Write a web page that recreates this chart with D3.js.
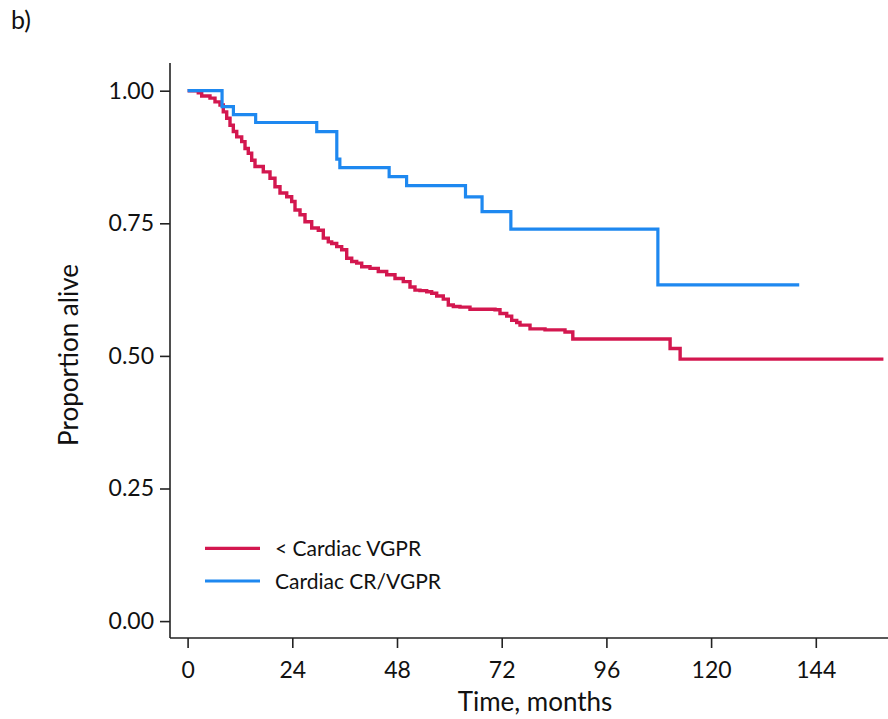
<!DOCTYPE html>
<html><head><meta charset="utf-8">
<script src="https://cdn.jsdelivr.net/npm/d3@7"></script>
<style>body{margin:0;background:#fff}svg{display:block}text{font-family:Lato,"Open Sans",sans-serif;fill:#111}</style>
</head><body>
<svg id="c" width="888" height="719"></svg>
<script>
const seriesNames = ["< Cardiac VGPR", "Cardiac CR/VGPR"];
// [months, proportion alive] step points
const redTimes = [0,2.45,3.23,5.13,6.28,7.43,8.18,8.96,9.72,10.48,11.26,12.40,13.16,13.91,14.69,15.45,17.35,18.89,20.03,21.18,22.72,23.86,24.62,25.77,26.91,28.45,29.96,31.11,32.25,33.03,34.18,35.32,36.47,37.62,38.76,39.91,41.81,43.71,45.64,47.54,49.44,50.98,52.12,53.27,54.81,55.95,57.10,58.61,59.76,60.91,62.44,64.73,70.47,71.61,73.15,74.29,75.44,76.20,78.49,81.93,86.51,88.3,110.6,112.9,159.5];
const redValues = [1,0.996,0.990,0.986,0.979,0.973,0.960,0.948,0.935,0.923,0.913,0.904,0.891,0.882,0.869,0.857,0.847,0.835,0.819,0.807,0.800,0.791,0.775,0.766,0.753,0.741,0.737,0.722,0.715,0.712,0.706,0.700,0.684,0.678,0.675,0.668,0.665,0.659,0.653,0.646,0.640,0.630,0.624,0.623,0.621,0.618,0.613,0.607,0.596,0.593,0.592,0.588,0.587,0.580,0.575,0.567,0.563,0.558,0.551,0.549,0.545,0.532,0.514,0.494,0.494];
const blueTimes = [0,7.9,10.5,15.6,29.6,34.2,34.9,46.2,50.2,63.7,67.5,74.1,107.8,140.2];
const blueValues = [1,0.970,0.955,0.940,0.923,0.871,0.855,0.838,0.821,0.800,0.772,0.739,0.634,0.634];
const xTicks = [0,24,48,72,96,120,144];
const yTicks = [0,0.25,0.5,0.75,1];

const svg = d3.select("#c");
const x = d3.scaleLinear().domain([0,160]).range([187.6, 885.6]);
const y = d3.scaleLinear().domain([0,1]).range([621.1, 90.7]);
const axX = 170, axY = 638;

// axes
const gy = svg.append("g").attr("transform",`translate(${axX},0)`)
  .call(d3.axisLeft(y).tickValues(yTicks).tickFormat(d3.format(".2f")).tickSize(10).tickPadding(6));
gy.select(".domain").remove();
const gx = svg.append("g").attr("transform",`translate(0,${axY})`)
  .call(d3.axisBottom(x).tickValues(xTicks).tickSize(10).tickPadding(14));
gx.select(".domain").remove();
svg.selectAll(".tick line").attr("stroke","#222").attr("stroke-width",1.6);
svg.selectAll(".tick text").style("font-size","23px").style("font-family","Lato, sans-serif").attr("fill","#111");
svg.append("line").attr("x1",axX).attr("x2",axX).attr("y1",63).attr("y2",axY).attr("stroke","#222").attr("stroke-width",1.6);
svg.append("line").attr("x1",axX).attr("x2",888).attr("y1",axY).attr("y2",axY).attr("stroke","#222").attr("stroke-width",1.6);

// titles
svg.append("text").attr("transform","translate(78,355) rotate(-90)").attr("text-anchor","middle").style("font-size","26px").text("Proportion alive");
svg.append("text").attr("x",535).attr("y",711).attr("text-anchor","middle").style("font-size","26px").text("Time, months");
svg.append("text").attr("x",11).attr("y",29).style("font-size","25px").text("b)");

// curves
const line = d3.line().x(d=>x(d[0])).y(d=>y(d[1])).curve(d3.curveStepAfter);
const redData = d3.zip(redTimes, redValues);
const blueData = d3.zip(blueTimes, blueValues);
const colors = ["#d3174f","#1e88f0"];
svg.append("path").datum(redData).attr("d",line).attr("fill","none").attr("stroke",colors[0]).attr("stroke-width",3.4);
svg.append("path").datum(blueData).attr("d",line).attr("fill","none").attr("stroke",colors[1]).attr("stroke-width",3.2);

// legend
const legY = [548.3, 581];
seriesNames.forEach((n,i)=>{
  svg.append("line").attr("x1",205).attr("x2",260).attr("y1",legY[i]).attr("y2",legY[i]).attr("stroke",colors[i]).attr("stroke-width",3.2);
  svg.append("text").attr("x",275).attr("y",legY[i]+8).style("font-size","21px").text(n);
});
</script>
</body></html>
